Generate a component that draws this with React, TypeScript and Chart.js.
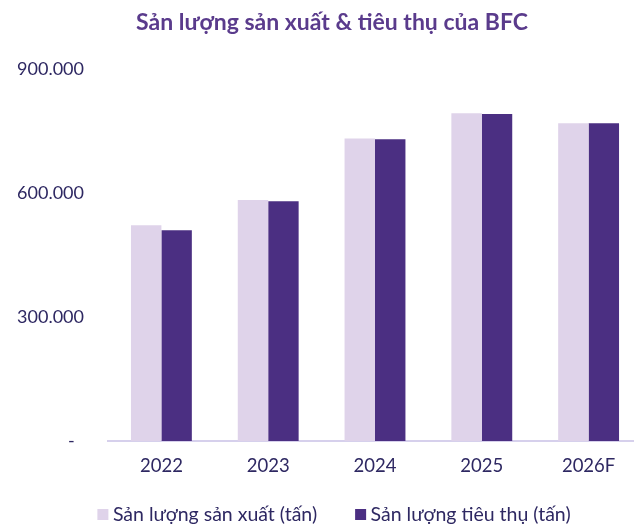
import React, { useEffect, useRef } from 'react';
import { Chart, registerables } from 'chart.js';

Chart.register(...registerables);

const titleText = 'Sản lượng sản xuất & tiêu thụ của BFC';
const categories = ['2022', '2023', '2024', '2025', '2026F'];
const seriesLabels = ['Sản lượng sản xuất (tấn)', 'Sản lượng tiêu thụ (tấn)'];
const productionValues = [522000, 583000, 732000, 793000, 769000];
const consumptionValues = [510000, 580000, 730000, 791000, 769000];
const yTickValues = [0, 300000, 600000, 900000];

const LIGHT = '#DFD3EA';
const DARK = '#4B2F82';
const AXIS = '#D6D0EC';
const TEXT = '#2E2862';
const TITLE = '#5A3B8C';
const FONT = 'Lato';

function formatTick(v: number): string {
  if (v === 0) return '-  ';
  return String(v).replace(/\B(?=(\d{3})+(?!\d))/g, '.');
}

export default function App() {
  const ref = useRef<HTMLCanvasElement>(null);

  useEffect(() => {
    const canvas = ref.current;
    if (!canvas) return;

    const titlePlugin = {
      id: 'customTitle',
      afterDraw(chart: any) {
        const ctx = chart.ctx;
        ctx.save();
        ctx.font = `bold 23px ${FONT}`;
        ctx.fillStyle = TITLE;
        ctx.textAlign = 'center';
        ctx.textBaseline = 'alphabetic';
        ctx.fillText(titleText, 332, 29.5);
        ctx.restore();
      },
    };

    const legendPlugin = {
      id: 'customLegend',
      afterDraw(chart: any) {
        const ctx = chart.ctx;
        ctx.save();
        ctx.font = `19.5px ${FONT}`;
        const items = chart.data.datasets.map((ds: any) => ({
          text: ds.label,
          color: ds.backgroundColor,
          w: ctx.measureText(ds.label).width,
        }));
        const box = 11;
        const gapText = 4.5;
        const gapItem = 38;
        const total =
          items.reduce((a: number, it: any) => a + box + gapText + it.w, 0) +
          gapItem * (items.length - 1);
        let x = 334 - total / 2;
        const boxTop = 509;
        items.forEach((it: any) => {
          ctx.fillStyle = it.color;
          ctx.fillRect(x, boxTop, box, box);
          x += box + gapText;
          ctx.fillStyle = TEXT;
          ctx.textAlign = 'left';
          ctx.textBaseline = 'alphabetic';
          ctx.fillText(it.text, x, 520.5);
          x += it.w + gapItem;
        });
        ctx.restore();
      },
    };

    const chart = new Chart(canvas, {
      type: 'bar',
      data: {
        labels: categories,
        datasets: [
          {
            label: seriesLabels[0],
            data: productionValues,
            backgroundColor: LIGHT,
            categoryPercentage: 0.57,
            barPercentage: 1,
          },
          {
            label: seriesLabels[1],
            data: consumptionValues,
            backgroundColor: DARK,
            categoryPercentage: 0.57,
            barPercentage: 1,
          },
        ],
      },
      options: {
        responsive: false,
        animation: false,
        layout: { padding: { top: 69, bottom: 43, left: 0, right: 0 } },
        plugins: {
          legend: { display: false },
          title: { display: false },
          tooltip: { enabled: false },
        },
        scales: {
          x: {
            grid: { display: true, color: 'transparent', drawTicks: false },
            border: { display: true, color: AXIS, width: 2 },
            ticks: { color: TEXT, font: { family: FONT, size: 18.5 }, padding: 14 },
            afterFit(s: any) {
              s.height = 40;
            },
          },
          y: {
            min: 0,
            max: 900000,
            afterBuildTicks(s: any) {
              s.ticks = yTickValues.map((v) => ({ value: v }));
            },
            grid: { display: false, drawTicks: false },
            border: { display: false },
            ticks: {
              color: TEXT,
              font: { family: FONT, size: 18 },
              padding: 24,
              callback: (v: any) => formatTick(Number(v)),
            },
            afterFit(s: any) {
              s.width = 108;
            },
          },
        },
      },
      plugins: [titlePlugin, legendPlugin],
    } as any);

    return () => chart.destroy();
  }, []);

  return (
    <div
      style={{
        position: 'fixed',
        left: 0,
        top: 0,
        width: 634,
        height: 524,
        overflow: 'hidden',
        background: '#fff',
      }}
    >
      <canvas ref={ref} width={642} height={524} style={{ display: 'block' }} />
    </div>
  );
}
